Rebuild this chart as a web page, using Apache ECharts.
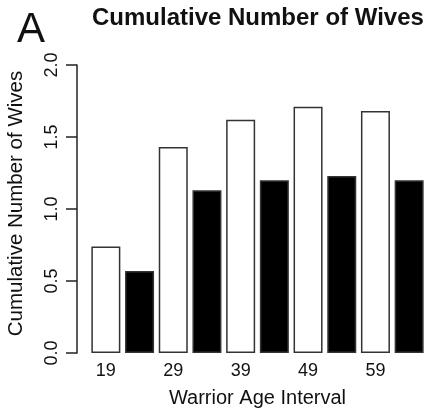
<!DOCTYPE html>
<html>
<head>
<meta charset="utf-8">
<script src="https://cdn.jsdelivr.net/npm/echarts@6/dist/echarts.min.js"></script>
<style>
html,body{margin:0;padding:0;background:#fff;}
#chart{width:426px;height:410px;}
</style>
</head>
<body>
<div id="chart"></div>
<script>
var ageIntervals = ['19', '29', '39', '49', '59'];
var whiteValues = [0.74, 1.43, 1.62, 1.71, 1.68];
var blackValues = [0.57, 1.13, 1.20, 1.23, 1.20];
var yTicks = [0, 0.5, 1.0, 1.5, 2.0];

var FONT = '"Liberation Sans", Arial, Helvetica, sans-serif';

// interleave: each age interval gets two slots (white then black)
var slots = [];
var whiteData = [];
var blackData = [];
ageIntervals.forEach(function (lab, i) {
  slots.push(lab); slots.push('');
  whiteData.push(whiteValues[i]); whiteData.push(null);
  blackData.push(null); blackData.push(blackValues[i]);
});

var chart = echarts.init(document.getElementById('chart'), null, {renderer: 'canvas'});
chart.setOption({
  animation: false,
  backgroundColor: '#fff',
  textStyle: {fontFamily: FONT},
  title: {
    text: 'Cumulative Number of Wives',
    left: 92,
    top: 6,
    padding: 0,
    textStyle: {fontFamily: FONT, fontSize: 24, fontWeight: 'bold', color: '#111'}
  },
  graphic: [{
    type: 'text',
    left: 17,
    top: 9,
    style: {text: 'A', fontFamily: FONT, fontSize: 42, fill: '#111'}
  }],
  grid: {left: 89, top: 65, width: 337, bottom: 57, containLabel: false, outerBoundsMode: 'none'},
  xAxis: {
    type: 'category',
    data: slots,
    axisLine: {show: false},
    axisTick: {show: false},
    axisLabel: {interval: 0, fontSize: 18, color: '#111', margin: 9, fontFamily: FONT},
    name: 'Warrior Age Interval',
    nameLocation: 'middle',
    nameGap: 35,
    nameTextStyle: {fontSize: 20, color: '#111', fontFamily: FONT},
    splitLine: {show: false}
  },
  yAxis: {
    type: 'value',
    min: 0,
    max: 2,
    interval: 0.5,
    offset: 12,
    axisLine: {show: true, lineStyle: {color: '#222', width: 1.5}},
    axisTick: {show: true, length: 11, lineStyle: {color: '#222', width: 1.5}},
    axisLabel: {
      rotate: 90, fontSize: 18, color: '#111', margin: 16, fontFamily: FONT,
      formatter: function (v) { return v.toFixed(1); }
    },
    splitLine: {show: false},
    name: 'Cumulative Number of Wives',
    nameLocation: 'middle',
    nameRotate: 90,
    nameGap: 50,
    nameTextStyle: {fontSize: 20.5, color: '#111', fontFamily: FONT, padding: [0, 0, 0, 11]}
  },
  series: [
    {
      type: 'bar',
      data: whiteData,
      barWidth: 29,
      barGap: '-100%',
      itemStyle: {color: '#fff', borderColor: '#333', borderWidth: 1.5}
    },
    {
      type: 'bar',
      data: blackData,
      barWidth: 29,
      itemStyle: {color: '#000', borderColor: '#333', borderWidth: 1.5}
    }
  ]
});
</script>
</body>
</html>
